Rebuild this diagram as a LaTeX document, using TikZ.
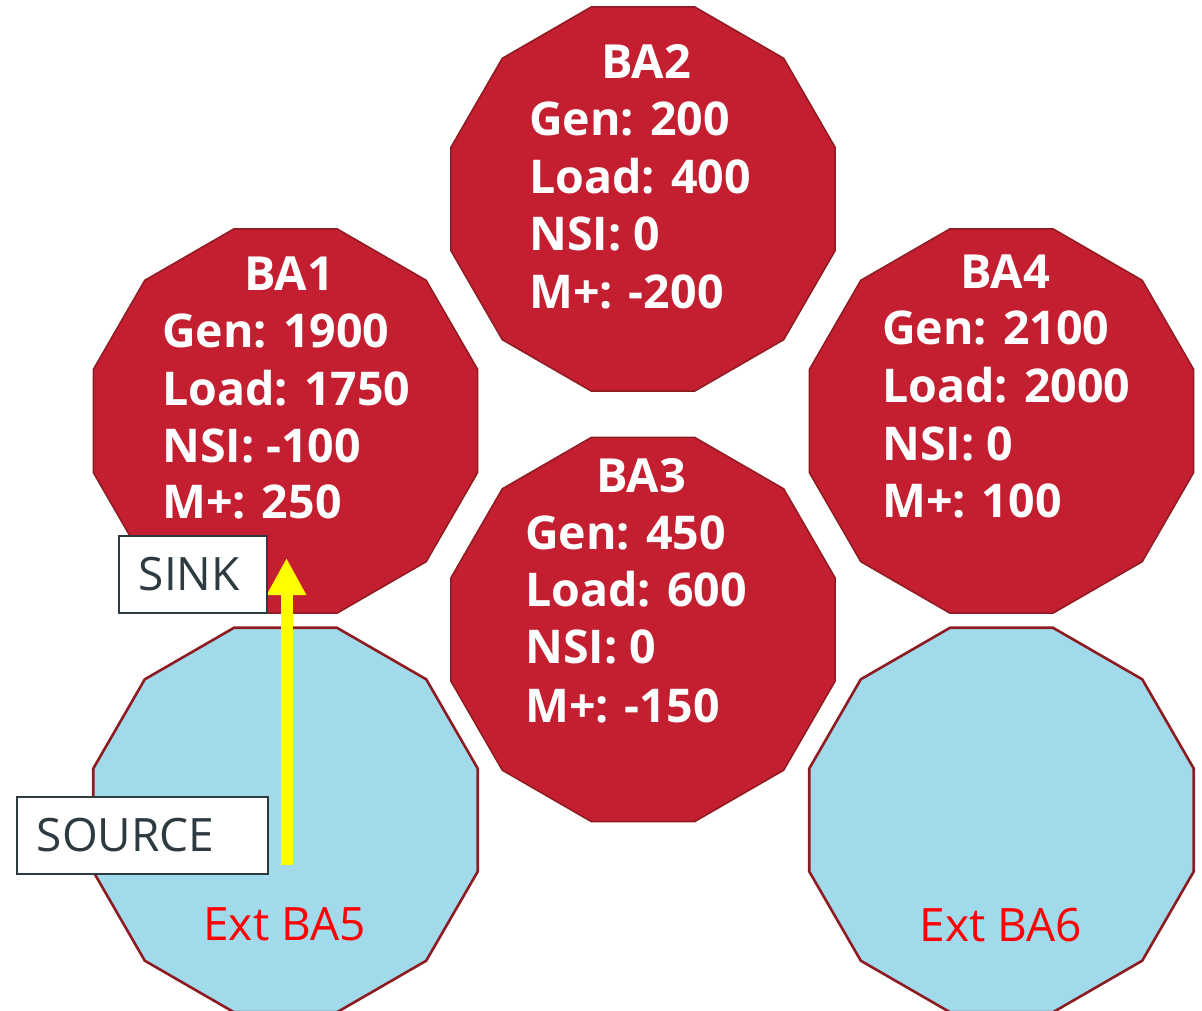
\documentclass[tikz,border=0pt]{standalone}
\usepackage{fontspec}
\setmainfont{Open Sans}
\usetikzlibrary{shapes.geometric,arrows.meta}

\definecolor{bared}{HTML}{C41F30}
\definecolor{baedge}{HTML}{8E1B22}
\definecolor{extblue}{HTML}{A0DAEB}
\definecolor{tagink}{HTML}{2D3A42}
\definecolor{flowyellow}{HTML}{FFFF00}
\definecolor{extred}{HTML}{FF0000}

\tikzset{
  dodec/.style={regular polygon, regular polygon sides=12, minimum size=398pt,
    inner sep=0pt, outer sep=0pt, draw=baedge},
  area/.style={dodec, fill=bared, line width=1.5pt},
  extarea/.style={dodec, fill=extblue, line width=2.6pt},
  batitle/.style={anchor=base, text=white, inner sep=0pt,
    font=\fontsize{47}{56}\selectfont\bfseries},
  baline/.style={anchor=base west, text=white, inner sep=0pt,
    font=\fontsize{46.5}{56}\selectfont\bfseries},
  extlabel/.style={anchor=base, text=extred, inner sep=0pt,
    font=\fontsize{46}{55}\selectfont},
  tag/.style={draw=tagink, line width=1.5pt, fill=white, text=tagink,
    font=\fontsize{46}{55}\selectfont, minimum height=77pt, anchor=north west,
    align=left, inner xsep=20pt, inner ysep=0pt},
  flow/.style={draw=flowyellow, line width=12pt,
    -{Triangle[width=37pt,length=37pt,fill=flowyellow]}}
}

\begin{document}
\begin{tikzpicture}[x=1pt,y=-1pt]
\useasboundingbox (0,0) rectangle (1202,1010);

% balancing areas
\node[area] (ba1) at (285.5,421) {};
\node[area] (ba2) at (643,199) {};
\node[area] (ba3) at (643,629.5) {};
\node[area] (ba4) at (1001.5,421) {};
\node[extarea] (ba5) at (285.5,820) {};
\node[extarea] (ba6) at (1001.5,820) {};

% BA1
\node[batitle] (ba1t) at (289,290) {BA1};
\node[baline] (ba1g) at (162,347) {Gen: 1900};
\node[baline] (ba1l) at (162,405) {Load: 1750};
\node[baline] (ba1n) at (162,462) {NSI: -100};
\node[baline] (ba1m) at (162,518) {M+: 250};

% BA2
\node[batitle] (ba2t) at (646,78) {BA2};
\node[baline] (ba2g) at (529,135) {Gen: 200};
\node[baline] (ba2l) at (529,193) {Load: 400};
\node[baline] (ba2n) at (529,250) {NSI: 0};
\node[baline] (ba2m) at (529,308) {M+: -200};

% BA3
\node[batitle] (ba3t) at (641,492) {BA3};
\node[baline] (ba3g) at (525,549) {Gen: 450};
\node[baline] (ba3l) at (525,606) {Load: 600};
\node[baline] (ba3n) at (525,663) {NSI: 0};
\node[baline] (ba3m) at (525,722) {M+: -150};

% BA4
\node[batitle] (ba4t) at (1005,288) {BA4};
\node[baline] (ba4g) at (882,344) {Gen: 2100};
\node[baline] (ba4l) at (882,402) {Load: 2000};
\node[baline] (ba4n) at (882,460) {NSI: 0};
\node[baline] (ba4m) at (882,517) {M+: 100};

% external areas
\node[extlabel] (ba5t) at (284.5,940) {Ext BA5};
\node[extlabel] (ba6t) at (1001,941) {Ext BA6};

% transfer from source to sink
\coordinate (flowfrom) at (286.5,865);
\coordinate (flowto) at (286.5,558);
\draw[flow] (flowfrom) -- (flowto);

\node[tag, text width=108pt] (sink) at (118,535) {SINK};
\node[tag, text width=211pt] (source) at (16,796) {SOURCE};
\end{tikzpicture}
\end{document}
